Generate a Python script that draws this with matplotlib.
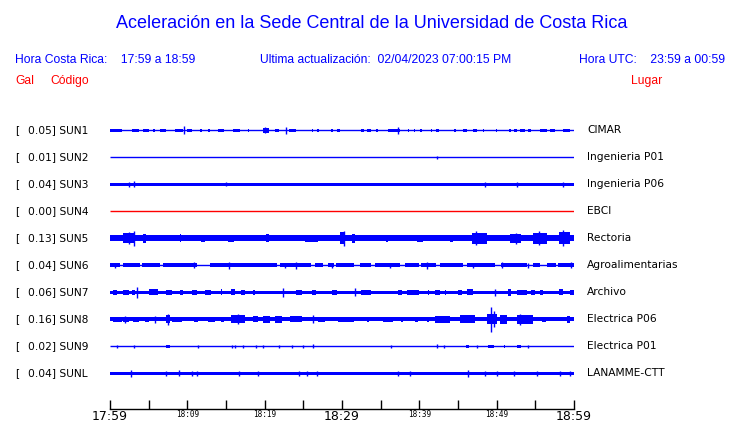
import matplotlib.pyplot as plt
import matplotlib.transforms as mtransforms

# stations, top to bottom
codes = ["SUN1", "SUN2", "SUN3", "SUN4", "SUN5", "SUN6", "SUN7", "SUN8", "SUN9", "SUNL"]
gal = [0.05, 0.01, 0.04, 0.00, 0.13, 0.04, 0.06, 0.16, 0.02, 0.04]
places = ["CIMAR", "Ingenieria P01", "Ingenieria P06", "EBCI", "Rectoria",
          "Agroalimentarias", "Archivo", "Electrica P06", "Electrica P01", "LANAMME-CTT"]

# time axis, minutes after 17:59
tick_minutes = [0, 5, 10, 15, 20, 25, 30, 35, 40, 45, 50, 55, 60]
tick_labels = ["17:59", "", "18:09", "", "18:19", "", "18:29", "", "18:39", "", "18:49", "", "18:59"]

# trace envelopes (half height in px)
# base band over the whole hour
base_half = [0.7, 0.6, 1.5, 0.6, 3.0, 0.7, 1.6, 2.0, 0.6, 1.7]

# bursts: (start min, end min, half height)
SUN1_BURSTS = [(0.0, 1.5, 1.5), (2.8, 3.7, 1.5), (4.3, 5.0, 1.5), (5.6, 5.8, 1.5), (6.5, 7.3, 1.5),
               (8.4, 9.5, 1.5), (9.9, 10.6, 1.5), (11.6, 11.9, 1.5), (12.7, 12.9, 1.5), (14.0, 14.7, 1.5),
               (15.9, 16.8, 1.5), (17.8, 18.0, 1.5), (19.8, 20.5, 2.3), (21.3, 21.8, 1.5), (23.1, 24.1, 1.5),
               (26.1, 26.3, 1.5), (26.8, 27.0, 1.5), (28.6, 28.8, 1.5), (29.3, 29.7, 1.5), (32.5, 32.8, 1.5),
               (33.2, 33.8, 1.5), (34.4, 34.6, 1.5), (36.0, 37.5, 1.5), (38.5, 38.7, 1.5), (39.3, 39.5, 1.5),
               (40.1, 40.3, 1.5), (41.5, 41.7, 1.5), (42.2, 42.5, 1.5), (44.5, 44.7, 1.5), (45.7, 46.1, 1.5),
               (47.0, 47.4, 1.5), (48.2, 48.4, 1.5), (49.9, 50.1, 1.5), (51.6, 51.8, 1.5), (52.2, 52.6, 1.5),
               (53.0, 53.7, 1.5), (54.1, 54.5, 1.5), (55.6, 56.5, 1.5), (56.9, 57.5, 1.5), (58.6, 59.5, 1.5)]
SUN2_BURSTS = []
SUN3_BURSTS = []
SUN4_BURSTS = []
SUN5_BURSTS = [(1.7, 3.2, 5.0), (4.3, 4.7, 4.5), (9.0, 9.2, 4.0), (11.8, 12.3, 3.7), (15.2, 16.0, 3.7),
               (20.2, 20.5, 4.0), (25.2, 26.9, 3.6), (29.7, 30.4, 6.0), (31.3, 31.7, 4.5), (35.7, 35.9, 3.8),
               (39.7, 40.5, 3.5), (44.0, 44.4, 3.5), (46.8, 48.7, 5.5), (51.7, 53.2, 4.8), (54.7, 56.5, 5.5),
               (58.0, 59.5, 6.0)]
SUN6_BURSTS = [(0.0, 1.3, 2.0), (1.7, 3.9, 2.0), (4.2, 6.5, 2.0), (6.9, 11.2, 2.0), (12.9, 21.6, 2.0),
               (22.0, 26.0, 2.0), (26.5, 27.6, 2.0), (28.2, 29.0, 2.0), (29.2, 31.5, 2.0), (32.3, 33.8, 2.0),
               (34.3, 37.5, 2.0), (38.1, 40.0, 2.0), (40.2, 42.2, 2.0), (42.7, 45.7, 2.0), (46.1, 49.8, 2.0),
               (50.6, 53.9, 2.0), (54.7, 55.6, 2.0), (56.5, 57.7, 2.0), (57.9, 60.0, 2.0)]
SUN7_BURSTS = [(0.4, 0.9, 2.5), (1.7, 2.4, 2.5), (2.8, 3.2, 2.5), (5.0, 6.2, 3.0), (7.3, 8.0, 2.5),
               (9.1, 9.5, 2.5), (10.6, 11.2, 2.5), (12.3, 13.1, 2.5), (14.3, 14.5, 3.0), (15.7, 16.2, 3.0),
               (17.0, 17.5, 2.5), (18.5, 18.7, 2.5), (24.1, 24.8, 2.5), (26.1, 26.7, 2.5), (28.7, 29.3, 2.7),
               (32.5, 33.8, 2.5), (37.3, 37.7, 2.5), (38.4, 39.9, 2.5), (41.1, 41.3, 2.5), (42.0, 42.7, 2.5),
               (43.3, 43.5, 2.5), (45.0, 45.5, 2.5), (46.1, 47.0, 3.0), (51.5, 51.9, 3.3), (52.6, 53.9, 2.7),
               (54.5, 55.0, 2.5), (55.6, 56.0, 2.5), (58.0, 58.6, 3.0), (59.5, 60.0, 2.5)]
SUN8_BURSTS = [(0.4, 1.5, 2.7), (1.7, 2.4, 2.8), (3.0, 3.7, 2.7), (4.5, 5.0, 2.5), (7.3, 7.8, 4.0),
               (8.0, 9.3, 2.7), (10.8, 11.4, 2.7), (12.7, 13.6, 2.7), (14.4, 14.7, 2.5), (15.7, 17.5, 4.0),
               (18.5, 19.2, 3.0), (19.8, 20.7, 3.3), (21.3, 22.2, 3.3), (23.3, 24.8, 3.0), (26.9, 27.8, 2.7),
               (29.5, 31.5, 2.7), (33.2, 33.5, 2.5), (35.3, 36.6, 2.5), (37.6, 37.9, 2.5), (39.5, 39.8, 2.5),
               (41.0, 41.3, 2.5), (42.0, 44.0, 3.3), (45.3, 47.2, 4.0), (48.7, 50.0, 5.0), (50.4, 51.3, 4.5),
               (52.6, 54.7, 4.5), (55.8, 56.4, 2.7), (59.1, 59.5, 3.3)]
SUN9_BURSTS = [(7.3, 7.8, 1.8), (46.0, 46.4, 1.7), (48.9, 49.6, 1.7), (50.9, 51.1, 1.8), (52.6, 53.2, 1.6)]
SUNL_BURSTS = []

# spikes: (minute, half height)
SUN1_SPIKES = [(9.6, 3.8), (22.8, 3.3), (37.2, 3.3), (20.1, 2.8)]
SUN2_SPIKES = [(42.3, 1.7)]
SUN3_SPIKES = [(2.5, 2.5), (3.1, 3.0), (15.0, 2.0), (48.5, 2.5), (52.6, 2.5), (58.6, 2.5)]
SUN4_SPIKES = []
SUN5_SPIKES = [(2.4, 6.0), (3.1, 7.8), (30.2, 7.5), (47.3, 7.0), (52.5, 5.5), (55.5, 7.0), (58.6, 8.0)]
SUN6_SPIKES = [(0.7, 2.5), (10.8, 3.0), (15.4, 3.7), (22.6, 2.7), (24.1, 3.5), (28.7, 2.5), (36.2, 2.5),
               (41.0, 3.5), (47.0, 2.5), (50.7, 3.0), (54.1, 2.5), (59.6, 3.0)]
SUN7_SPIKES = [(3.5, 5.3), (22.4, 4.3), (31.7, 4.0), (49.8, 3.3)]
SUN8_SPIKES = [(2.0, 3.3), (5.8, 3.7), (7.5, 5.5), (16.6, 5.0), (26.3, 4.0), (49.3, 12.2), (49.6, 8.0),
               (53.0, 5.3)]
SUN9_SPIKES = [(0.9, 1.3), (3.1, 1.7), (11.4, 1.5), (15.8, 1.5), (16.2, 1.5), (17.2, 1.3), (18.9, 1.2),
               (19.8, 1.5), (21.8, 1.3), (23.5, 1.2), (25.0, 1.2), (26.3, 2.0), (36.3, 1.3), (42.3, 2.0),
               (43.2, 1.3), (47.4, 1.3), (54.1, 1.3)]
SUNL_SPIKES = [(2.7, 3.7), (7.2, 2.5), (8.9, 3.0), (10.6, 2.2), (11.2, 2.5), (16.7, 2.5), (19.1, 2.5),
               (24.5, 2.5), (25.5, 2.2), (26.8, 2.5), (37.2, 2.5), (38.8, 2.2), (46.3, 3.7), (48.5, 2.2),
               (50.0, 2.2), (52.2, 2.2), (55.2, 2.2), (58.2, 2.5), (59.5, 2.2)]

bursts = [SUN1_BURSTS, SUN2_BURSTS, SUN3_BURSTS, SUN4_BURSTS, SUN5_BURSTS,
          SUN6_BURSTS, SUN7_BURSTS, SUN8_BURSTS, SUN9_BURSTS, SUNL_BURSTS]
spikes = [SUN1_SPIKES, SUN2_SPIKES, SUN3_SPIKES, SUN4_SPIKES, SUN5_SPIKES,
          SUN6_SPIKES, SUN7_SPIKES, SUN8_SPIKES, SUN9_SPIKES, SUNL_SPIKES]

BLUE = "#0000ff"
RED = "#ff0000"
W, H = 740, 423

fig = plt.figure(figsize=(W / 100, H / 100), dpi=100)

# trace area in pixels: x 110..574, y 110..409 (y axis in px units, top down)
ax = fig.add_axes([110 / W, 1 - 409 / H, 464 / W, 299 / H])
ax.set_xlim(0, 60)
ax.set_ylim(409, 110)
ROW0, ROW_STEP = 130.3, 27

for i, code in enumerate(codes):
    y0 = ROW0 + ROW_STEP * i
    color = RED if gal[i] == 0 else BLUE
    ax.hlines(y0, 0, 60, color=color, lw=1.0)
    if base_half[i] > 0.7:
        ax.bar(0, 2 * base_half[i], width=60, bottom=y0 - base_half[i], align="edge",
               color=color, linewidth=0)
    for s, e, h in bursts[i]:
        ax.bar(s, 2 * h, width=e - s, bottom=y0 - h, align="edge", color=color, linewidth=0)
    for m, h in spikes[i]:
        ax.vlines(m, y0 - h, y0 + h, color=color, lw=1.0)

for side in ["top", "left", "right"]:
    ax.spines[side].set_visible(False)
ax.spines["bottom"].set_linewidth(1.0)
ax.set_yticks([])
ax.set_xticks(tick_minutes)
ax.set_xticklabels(tick_labels)
ax.tick_params(axis="x", direction="in", length=6.5, width=1.0, pad=1)
for lab in ax.get_xticklabels():
    if lab.get_text() in ("17:59", "18:29", "18:59"):
        lab.set_fontsize(9)
        lab.set_family("DejaVu Sans")
    else:
        lab.set_fontsize(5.5)
        lab.set_family("DejaVu Sans Mono")

# left / right row labels
mix = mtransforms.blended_transform_factory(fig.transFigure, ax.transData)
for i, code in enumerate(codes):
    y0 = ROW0 + ROW_STEP * i
    ax.text(15 / W, y0, "[", transform=mix, ha="left", va="center", fontsize=7.7, family="DejaVu Sans")
    ax.text(28 / W, y0, f"{gal[i]:.2f}] {code}", transform=mix, ha="left", va="center",
            fontsize=7.7, family="DejaVu Sans")
    ax.text(587 / W, y0, places[i], transform=mix, ha="left", va="center",
            fontsize=7.7, family="DejaVu Sans")


def px(x, y):
    return x / W, 1 - y / H


hfont = "Liberation Sans"
fig.text(*px(372, 23), "Aceleración en la Sede Central de la Universidad de Costa Rica",
         ha="center", va="center", color=BLUE, fontsize=13, family=hfont)
fig.text(*px(15, 60), "Hora Costa Rica:    17:59 a 18:59", ha="left", va="center",
         color=BLUE, fontsize=8.7, family=hfont)
fig.text(*px(260, 60), "Ultima actualización:  02/04/2023 07:00:15 PM", ha="left", va="center",
         color=BLUE, fontsize=8.7, family=hfont)
fig.text(*px(725, 60), "Hora UTC:    23:59 a 00:59", ha="right", va="center",
         color=BLUE, fontsize=8.7, family=hfont)
fig.text(*px(15, 81), "Gal", ha="left", va="center", color=RED, fontsize=8.7, family=hfont)
fig.text(*px(50, 81), "Código", ha="left", va="center", color=RED, fontsize=8.7, family=hfont)
fig.text(*px(662, 81), "Lugar", ha="right", va="center", color=RED, fontsize=8.7, family=hfont)

fig.savefig("out.png", dpi=100)
